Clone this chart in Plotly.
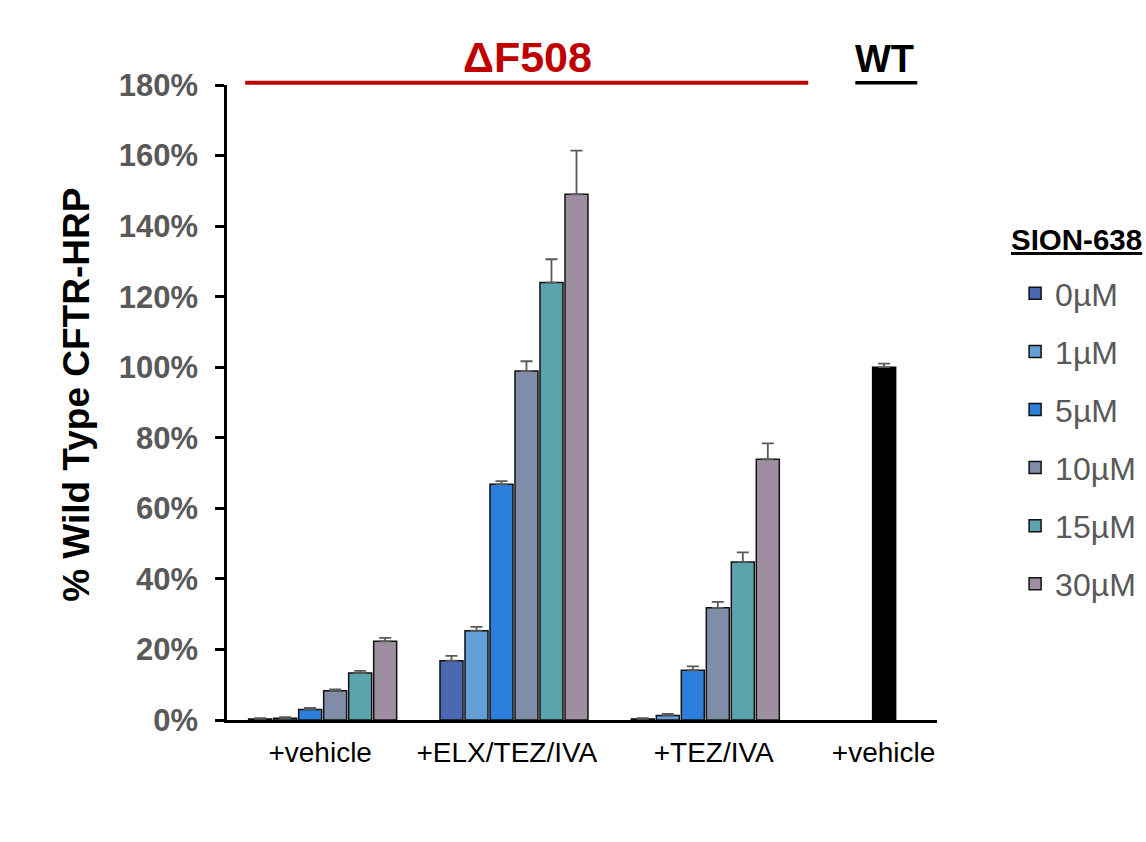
import plotly.graph_objects as go

# ---------------- data ----------------
groups = ["+vehicle", "+ELX/TEZ/IVA", "+TEZ/IVA", "+vehicle"]
concentrations = ["0µM", "1µM", "5µM", "10µM", "15µM", "30µM"]

# % of wild type CFTR-HRP for the three ΔF508 groups (per concentration)
val_0 = [0.3, 16.8, 0.3]
val_1 = [0.5, 25.3, 1.3]
val_5 = [3.0, 66.8, 14.1]
val_10 = [8.3, 98.9, 31.8]
val_15 = [13.3, 124.0, 44.8]
val_30 = [22.3, 149.0, 73.9]

err_0 = [0.2, 1.4, 0.2]
err_1 = [0.3, 1.1, 0.4]
err_5 = [0.4, 0.9, 1.1]
err_10 = [0.4, 2.8, 1.7]
err_15 = [0.6, 6.6, 2.7]
err_30 = [1.0, 12.4, 4.5]

wt_value = [100.0]
wt_error = [1.0]

y_ticks = [0, 20, 40, 60, 80, 100, 120, 140, 160, 180]

# ---------------- styling ----------------
colors = ["#4A67B2", "#64A0D6", "#2B7FDA", "#7F8DA9", "#5BA3AD", "#9E8FA0"]
values = [val_0, val_1, val_5, val_10, val_15, val_30]
errors = [err_0, err_1, err_5, err_10, err_15, err_30]
FONT = "Liberation Sans, Arial, sans-serif"

fig = go.Figure()
for i, (name, v, e, c) in enumerate(zip(concentrations, values, errors, colors)):
    fig.add_trace(go.Bar(
        x=list(range(len(v))), y=v, name=name,
        offsetgroup=f"g{i}", legendgroup=f"g{i}",
        marker=dict(color=c, line=dict(color="#111111", width=1.5)),
        error_y=dict(type="data", array=e, arrayminus=[0] * len(e), symmetric=False,
                     color="#595959", thickness=1.8, width=6),
    ))

# WT bar (shares the 5µM slot position in the 4th group)
fig.add_trace(go.Bar(
    x=[3], y=wt_value, name="WT", showlegend=False,
    offsetgroup="g2",
    marker=dict(color="#000000", line=dict(color="#000000", width=1.5)),
    error_y=dict(type="data", array=wt_error, arrayminus=[0], symmetric=False,
                 color="#595959", thickness=1.8, width=6),
))

label_pos = [-0.013, 0.963, 2.044, 2.932]

fig.update_layout(
    width=1146, height=842,
    margin=dict(l=227, r=209, t=85, b=122, autoexpand=False),
    paper_bgcolor="white", plot_bgcolor="white",
    barmode="group", bargap=0.216, bargroupgap=0.08,
    font=dict(family=FONT, color="#000000"),
    showlegend=True,
    legend=dict(
        x=1.110, xanchor="left", y=0.715, yanchor="top",
        traceorder="grouped", tracegroupgap=13.5,
        font=dict(size=32, color="#595959", family=FONT),
        bgcolor="rgba(0,0,0,0)",
    ),
    xaxis=dict(
        range=[-0.5, 3.211], tickmode="array", tickvals=label_pos, ticktext=groups,
        showline=True, linecolor="#000000", linewidth=3, ticks="",
        tickfont=dict(size=28, color="#000000", family=FONT),
        ticklabelstandoff=5, showgrid=False, zeroline=False,
    ),
    yaxis=dict(
        range=[0, 180], tickmode="array", tickvals=y_ticks,
        ticktext=[f"<b>{t}%</b>" for t in y_ticks],
        showline=True, linecolor="#000000", linewidth=2.5,
        ticks="outside", ticklen=9, tickwidth=2.5, tickcolor="#000000",
        tickfont=dict(size=31, color="#595959", family=FONT),
        ticklabelstandoff=11, showgrid=False, zeroline=False,
    ),
)

# y-axis title
fig.add_annotation(text="<b>% Wild Type CFTR-HRP</b>", xref="paper", yref="paper",
                   x=-0.2113, y=0.512, xanchor="center", yanchor="middle", textangle=-90,
                   showarrow=False, font=dict(size=37, color="#000000", family=FONT))

# header annotations
fig.add_shape(type="line", xref="x", yref="paper", x0=-0.405, x1=2.538, y0=1.0036, y1=1.0036,
              line=dict(color="#C00000", width=4))
fig.add_shape(type="line", xref="x", yref="paper", x0=2.784, x1=3.108, y0=1.0036, y1=1.0036,
              line=dict(color="#000000", width=3.5))
fig.add_annotation(text="<b>ΔF508</b>", xref="x", yref="paper", x=1.069, y=1.044, yanchor="middle",
                   showarrow=False, font=dict(size=43, color="#C00000", family=FONT))
fig.add_annotation(text="<b>WT</b>", xref="x", yref="paper", x=2.935, y=1.041, yanchor="middle",
                   showarrow=False, font=dict(size=38, color="#000000", family=FONT))
# legend heading
fig.add_annotation(text="<b><u>SION-638</u></b>", xref="paper", yref="paper", x=1.102, y=0.756,
                   xanchor="left", yanchor="middle", showarrow=False,
                   font=dict(size=29.5, color="#000000", family=FONT))

fig.write_html("out.html")
